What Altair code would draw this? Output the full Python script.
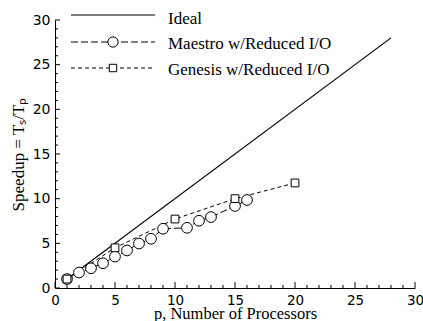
import altair as alt
import pandas as pd

# ---- data ----
series_names = ["Ideal", "Maestro w/Reduced I/O", "Genesis w/Reduced I/O"]
ideal_p = [1, 28]
ideal_speedup = [1, 28]
maestro_p = [1, 2, 3, 4, 5, 6, 7, 8, 9, 11, 12, 13, 15, 16]
maestro_speedup = [1.0, 1.73, 2.21, 2.77, 3.52, 4.2, 4.98, 5.51, 6.63, 6.74, 7.53, 7.94, 9.18, 9.85]
genesis_p = [1, 5, 10, 15, 20]
genesis_speedup = [1.0, 4.5, 7.72, 10.0, 11.76]
major_ticks = [0, 5, 10, 15, 20, 25, 30]
minor_ticks = [1, 2, 3, 4, 6, 7, 8, 9, 11, 12, 13, 14, 16, 17, 18, 19,
               21, 22, 23, 24, 26, 27, 28, 29]
x_title = "p, Number of Processors"
y_title = "Speedup = T\u209b/T\u209a"

W, H = 360, 268
SANS = "DejaVu Sans"
SERIF = "Liberation Serif"

ideal_df = pd.DataFrame({"p": ideal_p, "speedup": ideal_speedup})
maestro_df = pd.DataFrame({"p": maestro_p, "speedup": maestro_speedup})
genesis_df = pd.DataFrame({"p": genesis_p, "speedup": genesis_speedup})
major_df = pd.DataFrame({"t": major_ticks})
minor_df = pd.DataFrame({"t": minor_ticks})

xs = alt.Scale(domain=[0, 30], nice=False, zero=False)
ys = alt.Scale(domain=[0, 30], nice=False, zero=False)

x_main = alt.Axis(orient="bottom", values=major_ticks, ticks=False, tickSize=0,
                  domain=True, domainColor="black", domainWidth=1, grid=False,
                  labelFont=SANS, labelFontSize=13.5, labelColor="black", labelPadding=5,
                  labelFlush=False, labelOverlap=False,
                  title=x_title, titleFont=SERIF, titleFontSize=16.5,
                  titleFontWeight="normal", titleColor="black",
                  titleBaseline="alphabetic", titlePadding=11.5)
y_main = alt.Axis(orient="left", values=major_ticks, ticks=False, tickSize=0,
                  domain=True, domainColor="black", domainWidth=1, grid=False,
                  labelFont=SANS, labelFontSize=14, labelColor="black", labelPadding=5,
                  labelFlush=False, labelOverlap=False,
                  title=y_title, titleFont=SERIF, titleFontSize=17,
                  titleFontWeight="normal", titleColor="black", titlePadding=5)

ideal = alt.Chart(ideal_df).mark_line(color="black", strokeWidth=1.2).encode(
    x=alt.X("p:Q", scale=xs, axis=x_main),
    y=alt.Y("speedup:Q", scale=ys, axis=y_main),
)

# inward tick marks on both axes (major and minor)
def yticks(df, size):
    return alt.Chart(df).mark_rule(color="black", strokeWidth=1).encode(
        y=alt.Y("t:Q", scale=ys, axis=None), x=alt.value(0), x2=alt.value(size))

def xticks(df, size):
    return alt.Chart(df).mark_rule(color="black", strokeWidth=1).encode(
        x=alt.X("t:Q", scale=xs, axis=None), y=alt.value(H), y2=alt.value(H - size))

tick_layers = [yticks(major_df, 5), yticks(minor_df, 3), xticks(major_df, 6), xticks(minor_df, 3)]

genesis_line = alt.Chart(genesis_df).mark_line(color="black", strokeWidth=1, strokeDash=[4, 3]).encode(
    x=alt.X("p:Q", scale=xs, axis=None),
    y=alt.Y("speedup:Q", scale=ys, axis=None),
)
maestro_line = alt.Chart(maestro_df).mark_line(color="black", strokeWidth=1, strokeDash=[7, 3]).encode(
    x=alt.X("p:Q", scale=xs, axis=None),
    y=alt.Y("speedup:Q", scale=ys, axis=None),
)
maestro_pts = alt.Chart(maestro_df).mark_point(shape="circle", filled=True, fill="white",
                                               stroke="black", strokeWidth=1, size=115, opacity=1).encode(
    x=alt.X("p:Q", scale=xs, axis=None),
    y=alt.Y("speedup:Q", scale=ys, axis=None),
)
genesis_pts = alt.Chart(genesis_df).mark_point(shape="square", filled=True, fill="white",
                                               stroke="black", strokeWidth=1, size=60, opacity=1).encode(
    x=alt.X("p:Q", scale=xs, axis=None),
    y=alt.Y("speedup:Q", scale=ys, axis=None),
)

# ---- legend (drawn manually, top-left) ----
leg_line_y = [-5, 22, 48]
leg_text_y = [4, 29, 55]
leg_dash = [[1, 0], [7, 3], [4, 3]]
legend_layers = []
for i, name in enumerate(series_names):
    src = pd.DataFrame({"label": [name]})
    legend_layers.append(
        alt.Chart(src).mark_rule(color="black", strokeWidth=1.2 if i == 0 else 1,
                                 strokeDash=leg_dash[i]).encode(
            x=alt.value(16), x2=alt.value(100), y=alt.value(leg_line_y[i]))
    )
    if i == 1:
        legend_layers.append(
            alt.Chart(src).mark_point(shape="circle", filled=True, fill="white", stroke="black",
                                      strokeWidth=1, size=105, opacity=1).encode(
                x=alt.value(58), y=alt.value(leg_line_y[i])))
    if i == 2:
        legend_layers.append(
            alt.Chart(src).mark_point(shape="square", filled=True, fill="white", stroke="black",
                                      strokeWidth=1, size=55, opacity=1).encode(
                x=alt.value(58), y=alt.value(leg_line_y[i])))
    legend_layers.append(
        alt.Chart(src).mark_text(align="left", baseline="alphabetic", font=SERIF, fontSize=17,
                                 color="black").encode(
            x=alt.value(113), y=alt.value(leg_text_y[i]), text="label:N")
    )

chart = alt.layer(ideal, *tick_layers, genesis_line, maestro_line, maestro_pts, genesis_pts,
                  *legend_layers).resolve_axis(
    x="independent", y="independent"
).properties(
    width=W, height=H,
    padding={"left": 55, "top": 20, "right": 8, "bottom": 33},
    autosize=alt.AutoSizeParams(type="none"),
    background="white",
).configure_view(stroke=None)

chart.save("out.html", embed_options={"renderer": "svg", "actions": False})
